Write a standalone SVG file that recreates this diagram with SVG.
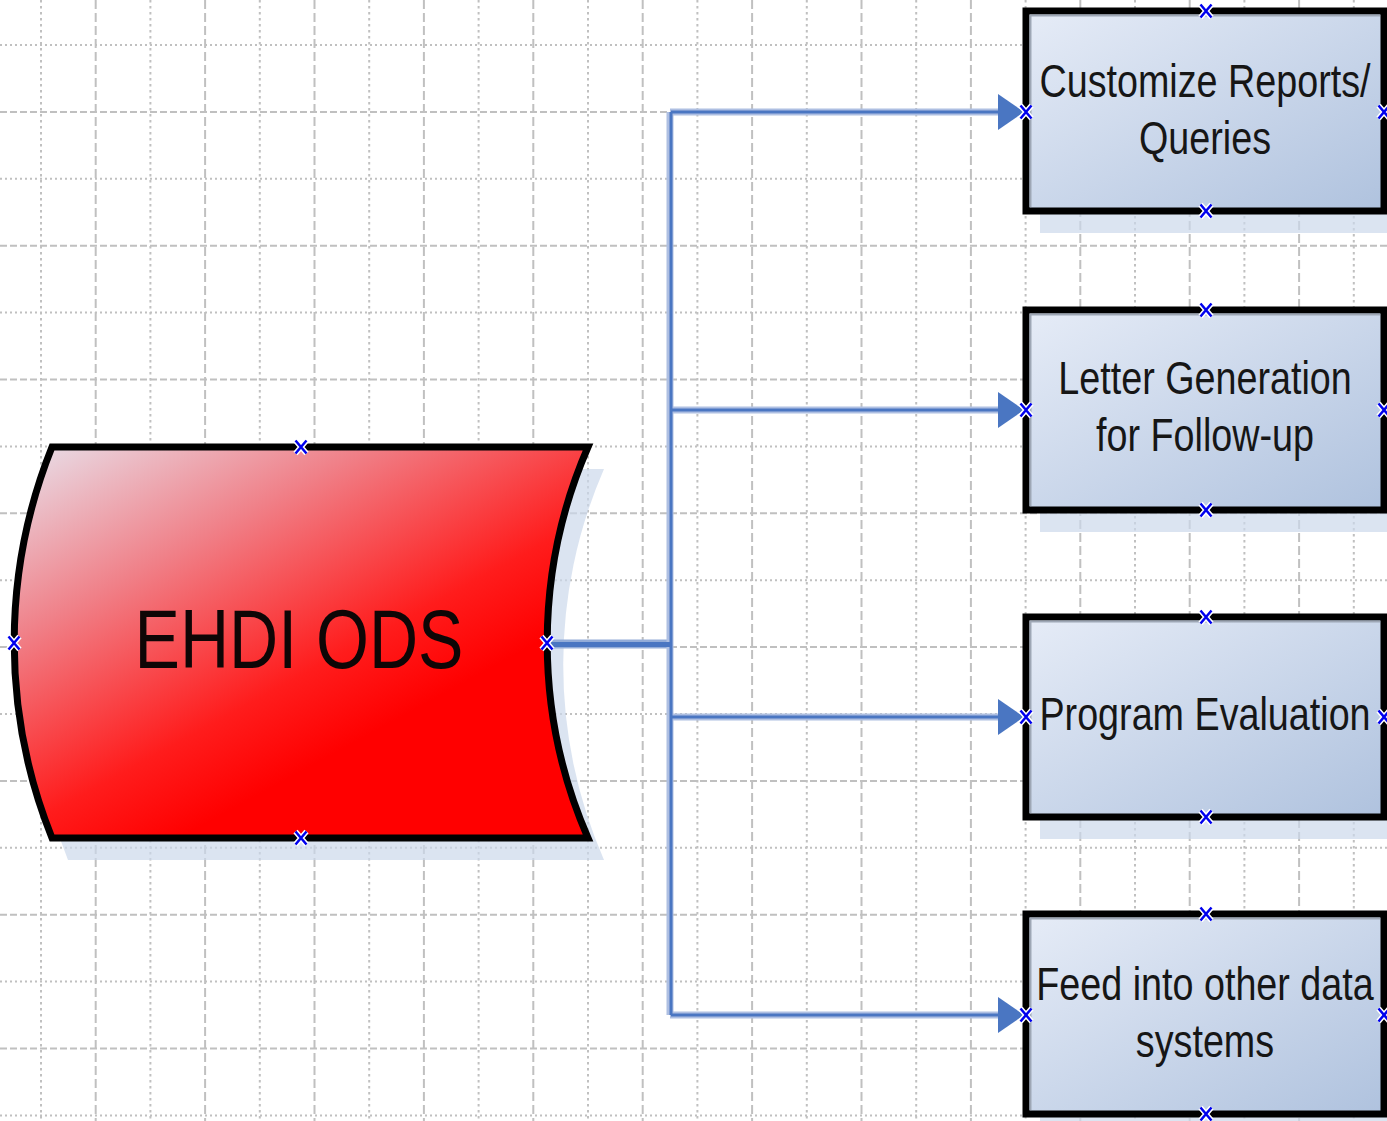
<svg xmlns="http://www.w3.org/2000/svg" xmlns:xlink="http://www.w3.org/1999/xlink" width="1387" height="1121" viewBox="0 0 1387 1121">
<defs>
<style>
.gd{fill:none;stroke:#c0c0c0;stroke-width:2}
.vdot{stroke-dasharray:2.5 3.5}
.vdash{stroke-dasharray:9 4}
.hdot{stroke-dasharray:2 3}
.hdash{stroke-dasharray:7 3}
.shadow{fill:#ccd8eb;fill-opacity:0.7}
.box{fill:url(#boxGrad);stroke:#000;stroke-width:7}
.inner{fill:none;stroke:#9ea7b5;stroke-width:2}
.ods{fill:url(#odsGrad);stroke:#000;stroke-width:7}
.lbl{font-family:"Liberation Sans",Arial,sans-serif;font-size:46px;fill:#161616;text-anchor:middle}
.big{font-family:"Liberation Sans",Arial,sans-serif;font-size:84px;fill:#0e0606;text-anchor:middle}
.halo{fill:none;stroke:#aebfe2;stroke-width:7}
.core{fill:none;stroke:#4a76c2;stroke-width:3}
.halo2{fill:none;stroke:#93acd8;stroke-width:9}
.core2{fill:none;stroke:#4a76c2;stroke-width:5}
.cpw{stroke:#fff;stroke-width:5.5;fill:none}
.cpb{stroke:#0000ee;stroke-width:2.5;fill:none}
</style>
<linearGradient id="boxGrad" x1="0" y1="0" x2="1" y2="1">
<stop offset="0" stop-color="#e6ecf7"/>
<stop offset="1" stop-color="#afc2de"/>
</linearGradient>
<linearGradient id="odsGrad" x1="0" y1="0" x2="0.8" y2="1">
<stop offset="0" stop-color="#e8e2ec"/>
<stop offset="0.3" stop-color="#f08088"/>
<stop offset="0.6" stop-color="#ff1c1c"/>
<stop offset="0.75" stop-color="#ff0000"/>
<stop offset="1" stop-color="#ff0000"/>
</linearGradient>
<marker id="arr" markerUnits="userSpaceOnUse" viewBox="0 0 26 36" refX="0" refY="18" markerWidth="26" markerHeight="36" orient="auto">
<path d="M0,0 L26,18 L0,36 Z" fill="#4a76c2"/>
</marker>
<g id="cp">
<path class="cpw" d="M-5.5,-6.5 L5.5,6.5 M5.5,-6.5 L-5.5,6.5"/>
<path class="cpb" d="M-5.5,-6.5 L5.5,6.5 M5.5,-6.5 L-5.5,6.5"/>
</g>
</defs>
<rect width="1387" height="1121" fill="#fff"/>
<g id="grid">
<path class="gd vdot" d="M41,0V1121M150.4,0V1121M259.8,0V1121M369.2,0V1121M478.6,0V1121M588,0V1121M697.4,0V1121M806.8,0V1121M916.2,0V1121M1025.6,0V1121M1135,0V1121M1244.4,0V1121M1353.8,0V1121"/>
<path class="gd vdash" d="M95.7,0V1121M205.1,0V1121M314.5,0V1121M423.9,0V1121M533.3,0V1121M642.7,0V1121M752.1,0V1121M861.5,0V1121M970.9,0V1121M1080.3,0V1121M1189.7,0V1121M1299.1,0V1121"/>
<path class="gd hdot" d="M0,45H1387M0,178.8H1387M0,312.6H1387M0,446.4H1387M0,580.2H1387M0,714H1387M0,847.8H1387M0,981.6H1387M0,1115.4H1387"/>
<path class="gd hdash" d="M0,111.9H1387M0,245.7H1387M0,379.5H1387M0,513.3H1387M0,647.1H1387M0,780.9H1387M0,914.7H1387M0,1048.5H1387"/>
</g>
<g id="ehdi-ods">
<path class="shadow" transform="translate(16,22)" d="M52,447 H588 A489,489 0 0 0 588,838 H52 A524.5,524.5 0 0 1 52,447 Z"/>
<path class="ods" d="M52,447 H588 A489,489 0 0 0 588,838 H52 A524.5,524.5 0 0 1 52,447 Z"/>
<text class="big" transform="translate(299,668) scale(0.81,1)">EHDI ODS</text>
</g>
<g id="node-reports">
<rect class="shadow" x="1040" y="33" width="358" height="200"/>
<rect class="box" x="1026" y="11" width="358" height="200"/>
<path class="inner" d="M1030.5,207 V15.5 H1380"/>
<text class="lbl" transform="translate(1205,97) scale(0.82,1)">Customize Reports/</text>
<text class="lbl" transform="translate(1205,154) scale(0.82,1)">Queries</text>
</g>
<g id="node-letter">
<rect class="shadow" x="1040" y="332" width="358" height="200"/>
<rect class="box" x="1026" y="310" width="358" height="200"/>
<path class="inner" d="M1030.5,506 V314.5 H1380"/>
<text class="lbl" transform="translate(1205,394) scale(0.82,1)">Letter Generation</text>
<text class="lbl" transform="translate(1205,451) scale(0.82,1)">for Follow-up</text>
</g>
<g id="node-eval">
<rect class="shadow" x="1040" y="639" width="358" height="200"/>
<rect class="box" x="1026" y="617" width="358" height="200"/>
<path class="inner" d="M1030.5,813 V621.5 H1380"/>
<text class="lbl" transform="translate(1205,730) scale(0.82,1)">Program Evaluation</text>
</g>
<g id="node-feed">
<rect class="shadow" x="1040" y="936" width="358" height="200"/>
<rect class="box" x="1026" y="914" width="358" height="200"/>
<path class="inner" d="M1030.5,1110 V918.5 H1380"/>
<text class="lbl" transform="translate(1205,1000) scale(0.82,1)">Feed into other data</text>
<text class="lbl" transform="translate(1205,1057) scale(0.82,1)">systems</text>
</g>
<g id="connectors">
<path class="halo2" d="M550,644 H670"/>
<path class="halo" d="M670,112 V1015 M670,112 H998 M670,410 H998 M670,717 H998 M670,1015 H998"/>
<path class="core2" d="M550,644.5 H670"/>
<path class="core" d="M671,112 V1015"/>
<path class="core" d="M671,112 H998" marker-end="url(#arr)"/>
<path class="core" d="M671,410 H998" marker-end="url(#arr)"/>
<path class="core" d="M671,717 H998" marker-end="url(#arr)"/>
<path class="core" d="M671,1015 H998" marker-end="url(#arr)"/>
</g>
<g id="connection-points">
<use xlink:href="#cp" x="301" y="447"/>
<use xlink:href="#cp" x="301" y="838"/>
<use xlink:href="#cp" x="14" y="643"/>
<use xlink:href="#cp" x="547" y="643"/>
<use xlink:href="#cp" x="1206" y="11"/>
<use xlink:href="#cp" x="1206" y="211"/>
<use xlink:href="#cp" x="1026" y="112"/>
<use xlink:href="#cp" x="1384" y="112"/>
<use xlink:href="#cp" x="1206" y="310"/>
<use xlink:href="#cp" x="1206" y="510"/>
<use xlink:href="#cp" x="1026" y="410"/>
<use xlink:href="#cp" x="1384" y="410"/>
<use xlink:href="#cp" x="1206" y="617"/>
<use xlink:href="#cp" x="1206" y="817"/>
<use xlink:href="#cp" x="1026" y="717"/>
<use xlink:href="#cp" x="1384" y="717"/>
<use xlink:href="#cp" x="1206" y="914"/>
<use xlink:href="#cp" x="1206" y="1114"/>
<use xlink:href="#cp" x="1026" y="1015"/>
<use xlink:href="#cp" x="1384" y="1015"/>
</g>
</svg>
